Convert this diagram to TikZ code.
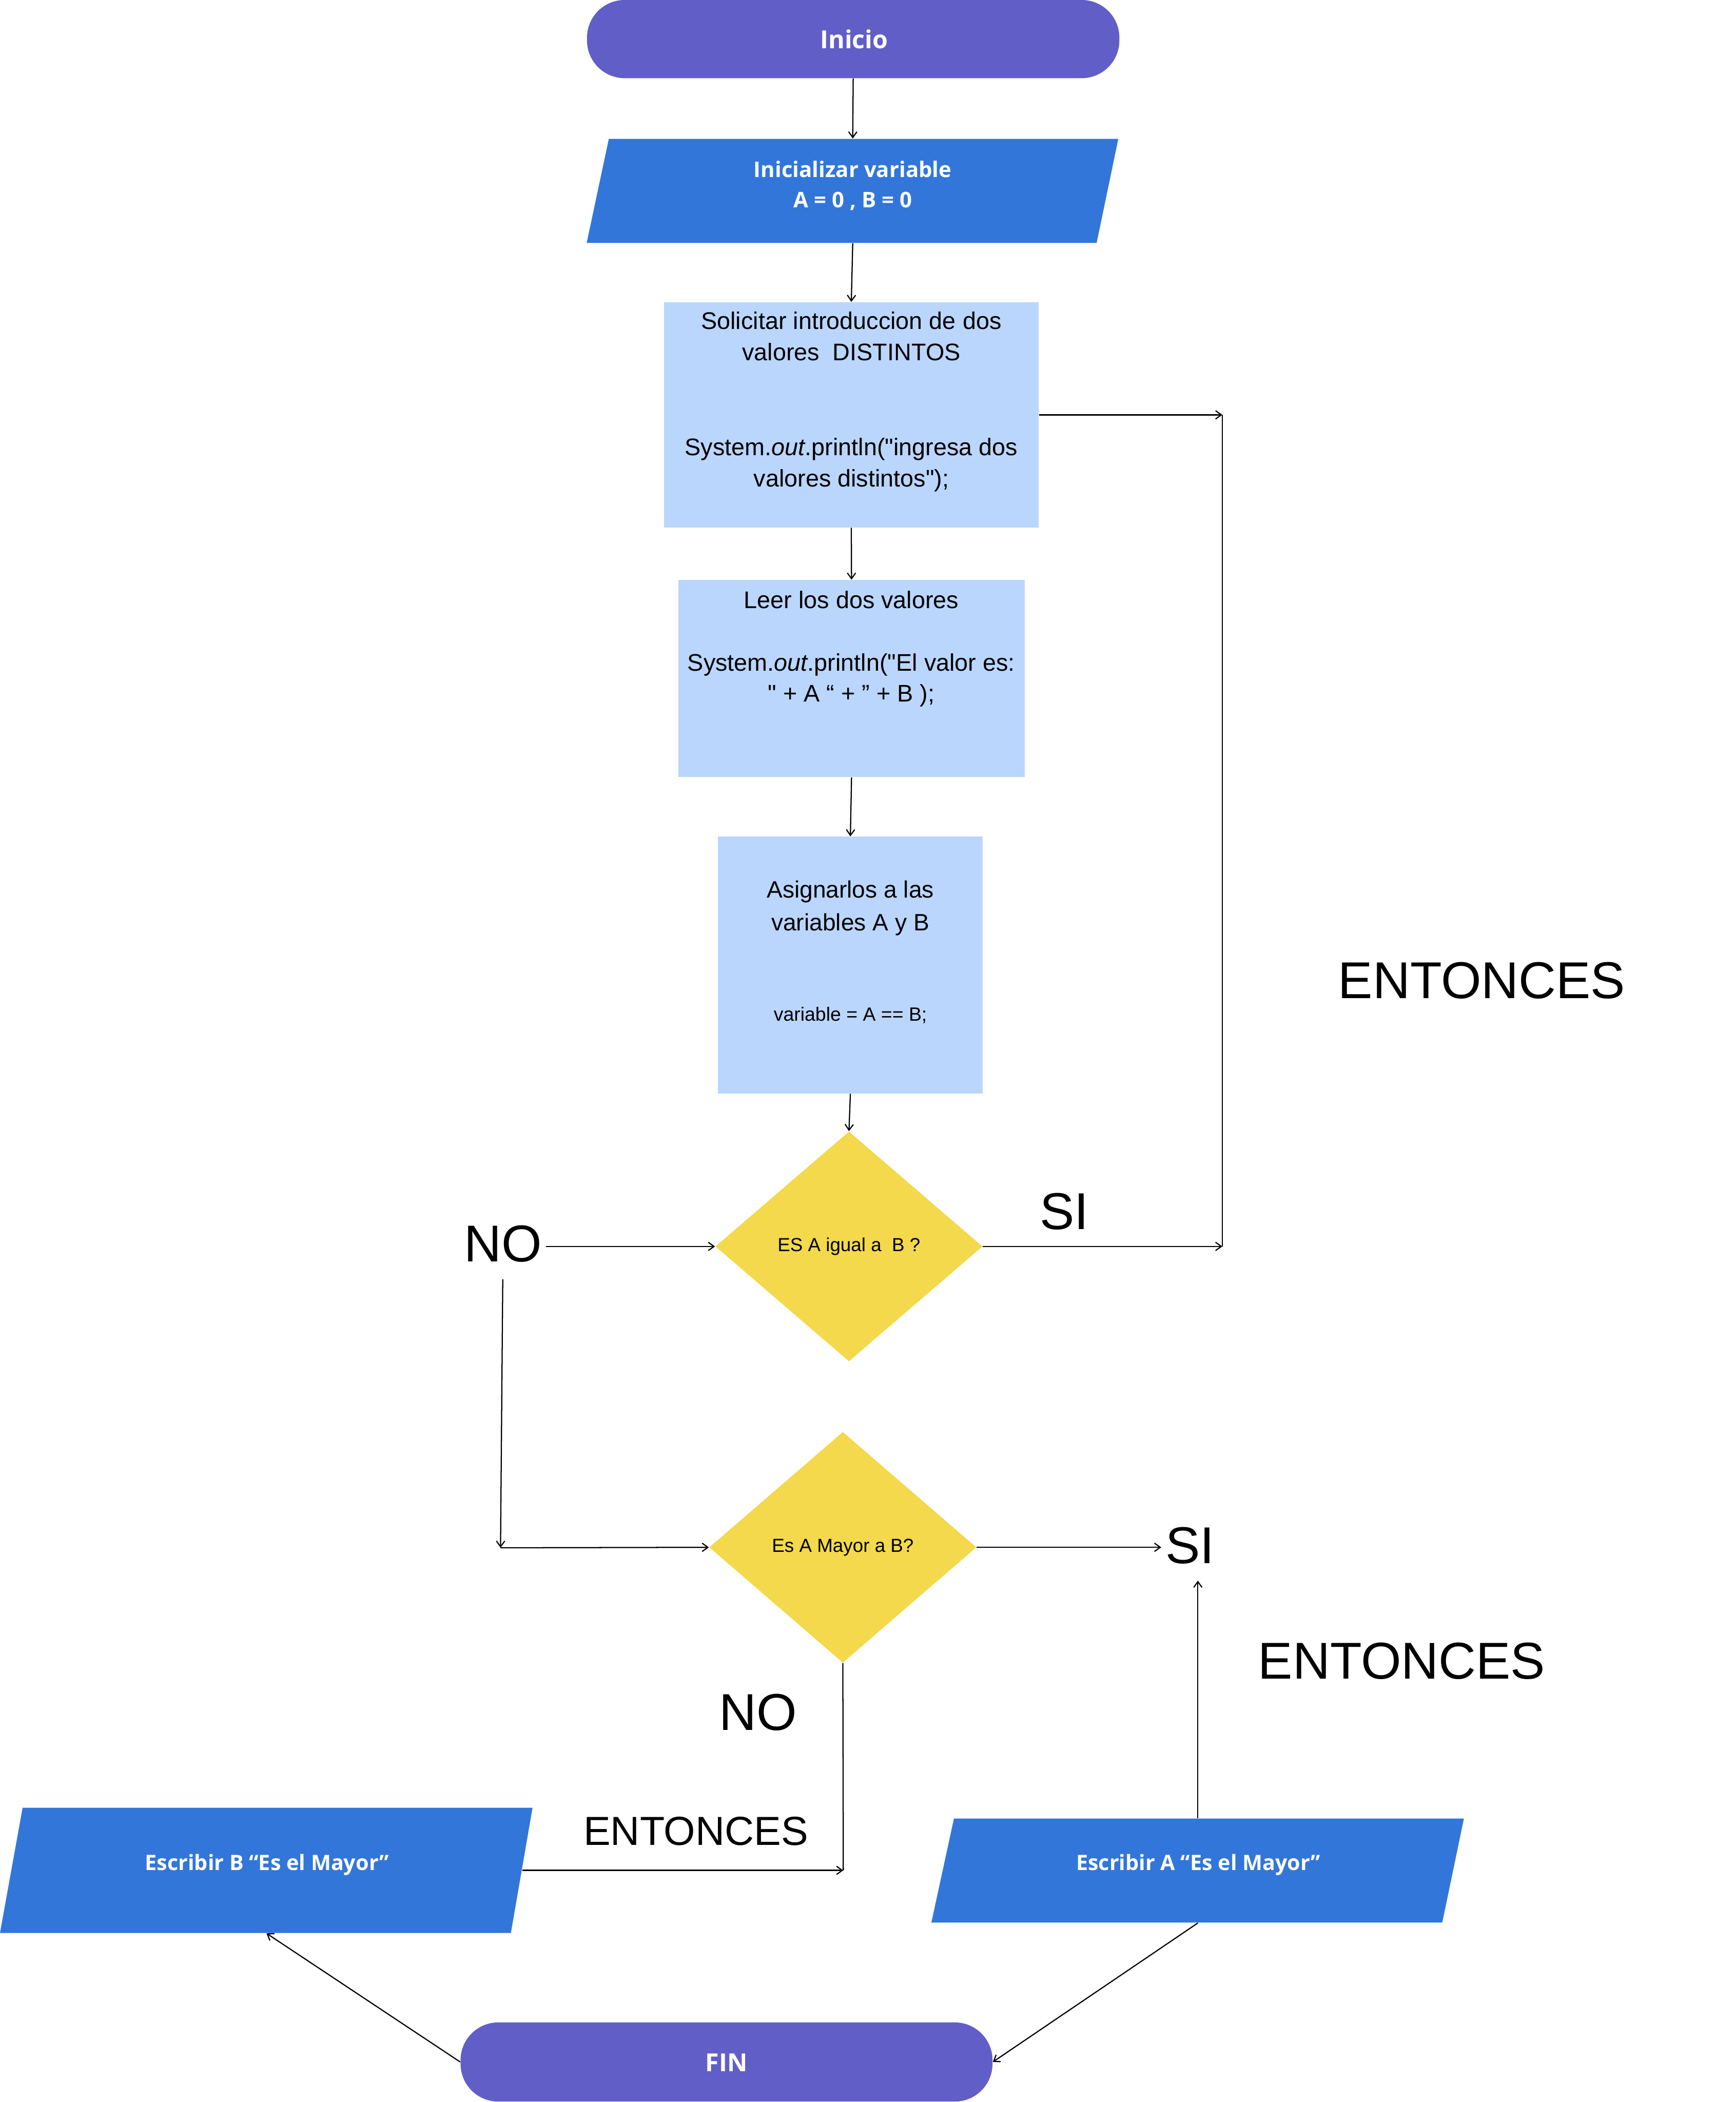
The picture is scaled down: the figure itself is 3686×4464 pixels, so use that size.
\documentclass[tikz,border=0pt]{standalone}
\usepackage{fontspec}
\setmainfont{Liberation Sans}[Ligatures=TeXOff]
\newfontfamily\osans{Open Sans}
\usetikzlibrary{arrows.meta,shapes.geometric}
\definecolor{cpurple}{HTML}{625EC8}
\definecolor{cblue}{HTML}{3276DA}
\definecolor{clight}{HTML}{BAD6FD}
\definecolor{cyellow}{HTML}{F3D94B}
\newcommand{\sq}{\symbol{34}}
\begin{document}
\begin{tikzpicture}[x=0.01cm,y=-0.01cm,
  pill/.style={rectangle,rounded corners=0.8cm,fill=cpurple,inner sep=0pt,minimum width=11.3cm,minimum height=1.66cm},
  lightbox/.style={rectangle,fill=clight,inner sep=0pt},
  paranode/.style={rectangle,inner sep=0pt,minimum width=10.84cm},
  decision/.style={diamond,fill=cyellow,inner sep=0pt,minimum width=5.67cm,minimum height=4.88cm,font={\fontsize{11.4}{14}\selectfont}},
  wtxt/.style={text=white,align=center,inner sep=0pt},
  btxt/.style={align=center,inner sep=0pt},
  lbl/.style={inner sep=0.08cm,font={\fontsize{31.3}{36}\selectfont}},
  conn/.style={line width=0.7pt,-{Straight Barb[length=3.5pt,width=5pt]}},
  plainline/.style={line width=0.7pt}]
\useasboundingbox (0,0) rectangle (3686,4464);

% Inicio
\node[pill] (inicio) at (1812,83) {};
\node[wtxt,font={\osans\bfseries\fontsize{15}{18}\selectfont}] (tinicio) at (1814,83) {Inicio};

% Inicializar variable
\fill[cblue] (1293,295) -- (2375,295) -- (2329,516) -- (1246,516) -- cycle;
\node[paranode,minimum height=2.21cm] (init) at (1811,405.5) {};
\node[wtxt,font={\osans\bfseries\fontsize{13}{18.2}\selectfont}] (tinit) at (1811,394) {Inicializar variable\\A = 0 , B = 0};

% Solicitar
\node[lightbox,minimum width=7.96cm,minimum height=4.78cm] (solic) at (1808,881) {};
\node[btxt,font={\fontsize{14.5}{19.06}\selectfont}] (tsolic) at (1808,853)
  {Solicitar introduccion de dos\\valores~ DISTINTOS\\[1.34cm]System.\textit{out}.println(\sq ingresa dos\\valores distintos\sq);};

% Leer
\node[lightbox,minimum width=7.35cm,minimum height=4.18cm] (leer) at (1808.5,1441) {};
\node[btxt,font={\fontsize{14.5}{18.5}\selectfont}] (tleer) at (1808,1378)
  {Leer los dos valores\\[0.68cm]System.\textit{out}.println(\sq El valor es:\\\sq{} + A “ + ” + B );};

% Asignar
\node[lightbox,minimum width=5.62cm,minimum height=5.45cm] (asig) at (1806,2049.5) {};
\node[btxt,font={\fontsize{14.3}{19.6}\selectfont}] (tasig) at (1806,1928.5) {Asignarlos a las\\variables A y B};
\node[btxt,font={\fontsize{11.6}{13}\selectfont}] (tasigb) at (1806,2156) {variable = A == B;};

% Decisions
\node[decision] (d1) at (1803,2647) {ES A igual a~ B ?};
\node[decision,minimum height=4.9cm] (d2) at (1790,3286) {Es A Mayor a B?};

% Labels
\node[lbl] (si1) at (2260,2573) {SI};
\node[lbl] (no1) at (1068,2641) {NO};
\node[lbl] (si2) at (2527,3282) {SI};
\node[lbl] (ent1) at (3147,2082) {ENTONCES};
\node[lbl] (ent2) at (2977,3527) {ENTONCES};
\node[lbl] (no2) at (1610,3636) {NO};
\node[inner sep=0.08cm,font={\fontsize{24.5}{28}\selectfont}] (ent3) at (1478,3889) {ENTONCES};

% Escribir B
\fill[cblue] (48,3839) -- (1131,3839) -- (1085,4105) -- (0,4105) -- cycle;
\node[paranode,minimum height=2.66cm] (escB) at (566,3972) {};
\node[wtxt,font={\osans\bfseries\fontsize{12.8}{16}\selectfont}] (tescB) at (567,3960) {Escribir B “Es el Mayor”};

% Escribir A
\fill[cblue] (2026,3862) -- (3109,3862) -- (3063,4083) -- (1978,4083) -- cycle;
\node[paranode,minimum height=2.21cm] (escA) at (2544,3972.5) {};
\node[wtxt,font={\osans\bfseries\fontsize{12.8}{16}\selectfont}] (tescA) at (2545,3960) {Escribir A “Es el Mayor”};

% FIN
\node[pill,minimum width=11.29cm,minimum height=1.68cm] (fin) at (1543,4379) {};
\node[wtxt,font={\osans\bfseries\fontsize{15}{18}\selectfont}] (tfin) at (1543,4380) {FIN};

% corner coordinates
\coordinate (c1) at (2596,881);
\coordinate (c2) at (2596,2647);
\coordinate (c3) at (1063,3287);
\coordinate (c4) at (1791,3972);

% Connectors
\draw[conn] (inicio.south) -- (init.north);
\draw[conn] (init.south) -- (solic.north);
\draw[conn] (solic.south) -- (leer.north);
\draw[conn] (leer.south) -- (asig.north);
\draw[conn] (asig.south) -- (d1.north);
\draw[conn] (solic.east) -- (c1);
\draw[plainline] (c1) -- (c2);
\draw[conn] (d1.east) -- (c2);
\draw[conn] (no1.east |- d1.west) -- (d1.west);
\draw[conn,shorten <=0.28cm] (no1.south) -- (c3);
\draw[conn] (c3) -- (d2.west);
\draw[conn] (d2.east) -- (d2.east -| si2.west);
\draw[conn,shorten >=0.27cm] (escA.north) -- (escA.north |- si2.south);
\draw[plainline] (d2.south) -- (c4);
\draw[conn] (escB.east) -- (c4);
\draw[conn] (fin.west) -- (escB.south);
\draw[conn] (escA.south) -- (fin.east);
\end{tikzpicture}
\end{document}
